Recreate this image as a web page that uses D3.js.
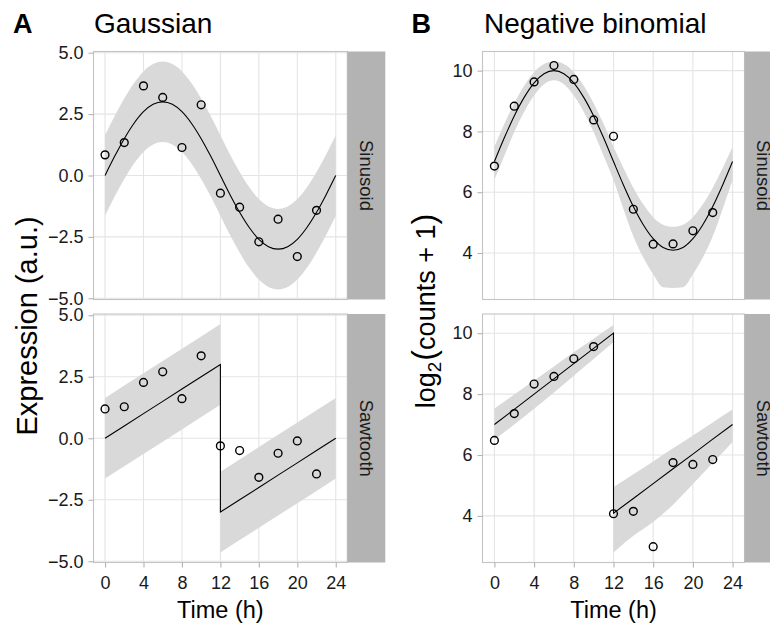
<!DOCTYPE html>
<html><head><meta charset="utf-8">
<script src="https://cdn.jsdelivr.net/npm/d3@7"></script>
<style>
body{margin:0;background:#fff}
text{font-family:"Liberation Sans",Arial,Helvetica,sans-serif}
</style>
</head><body>
<svg id="c" width="770" height="623"></svg>
<script>
// ---------- DATA ----------
const hours = [0,1,2,3,4,5,6,7,8,9,10,11,12,13,14,15,16,17,18,19,20,21,22,23,24];
const xTicks = [0,4,8,12,16,20,24];
const obsHours = [0,2,4,6,8,10,12,14,16,18,20,22];
const sawHours1 = [0,2,4,6,8,10,12];
const sawHours2 = [12,14,16,18,20,22,24];

// Gaussian – sinusoid
const gaussSinMean  = [0,0.78,1.5,2.12,2.6,2.9,3,2.9,2.6,2.12,1.5,0.78,0,-0.78,-1.5,-2.12,-2.6,-2.9,-3,-2.9,-2.6,-2.12,-1.5,-0.78,0];
const gaussSinLower = [-1.64,-0.86,-0.14,0.48,0.96,1.26,1.36,1.26,0.96,0.48,-0.14,-0.86,-1.64,-2.42,-3.14,-3.76,-4.24,-4.54,-4.64,-4.54,-4.24,-3.76,-3.14,-2.42,-1.64];
const gaussSinUpper = [1.64,2.42,3.14,3.76,4.24,4.54,4.64,4.54,4.24,3.76,3.14,2.42,1.64,0.86,0.14,-0.48,-0.96,-1.26,-1.36,-1.26,-0.96,-0.48,0.14,0.86,1.64];
const gaussSinObs   = [0.84,1.34,3.65,3.18,1.14,2.88,-0.72,-1.29,-2.70,-1.78,-3.30,-1.42];

// Gaussian – sawtooth
const gaussSawMean1  = [0,0.5,1,1.5,2,2.5,3];
const gaussSawLower1 = [-1.64,-1.14,-0.64,-0.14,0.36,0.86,1.36];
const gaussSawUpper1 = [1.64,2.14,2.64,3.14,3.64,4.14,4.64];
const gaussSawMean2  = [-3,-2.5,-2,-1.5,-1,-0.5,0];
const gaussSawLower2 = [-4.64,-4.14,-3.64,-3.14,-2.64,-2.14,-1.64];
const gaussSawUpper2 = [-1.36,-0.86,-0.36,0.14,0.64,1.14,1.64];
const gaussSawObs    = [1.19,1.28,2.27,2.70,1.61,3.35,-0.31,-0.50,-1.59,-0.61,-0.11,-1.45];

// Negative binomial – sinusoid
const nbSinMean  = [7.01,7.79,8.51,9.12,9.6,9.9,10.0,9.9,9.6,9.12,8.51,7.79,7.01,6.24,5.53,4.93,4.47,4.18,4.09,4.18,4.47,4.93,5.53,6.24,7.01];
const nbSinLower = [6.4,7.2,7.98,8.65,9.18,9.55,9.68,9.55,9.18,8.65,7.98,7.2,6.4,5.45,4.55,3.85,3.3,2.87,2.85,2.87,3.3,3.85,4.55,5.45,6.4];
const nbSinUpper = [7.5,8.25,8.93,9.5,9.95,10.22,10.3,10.22,9.95,9.5,8.93,8.25,7.5,6.8,6.15,5.6,5.18,4.93,4.86,4.93,5.18,5.6,6.15,6.8,7.5];
const nbSinObs   = [6.86,8.83,9.63,10.17,9.71,8.38,7.84,5.44,4.29,4.30,4.73,5.33];

// Negative binomial – sawtooth
const nbSawMean1  = [7,7.5,8,8.5,9,9.5,10];
const nbSawLower1 = [6.5,7.0,7.52,8.05,8.6,9.15,9.7];
const nbSawUpper1 = [7.53,7.99,8.45,8.91,9.37,9.82,10.27];
const nbSawMean2  = [4.09,4.57,5.06,5.55,6.03,6.52,7.0];
const nbSawLower2 = [2.8,3.35,3.8,4.37,5.05,5.74,6.43];
const nbSawUpper2 = [4.95,5.37,5.79,6.22,6.64,7.07,7.49];
const nbSawObs    = [6.48,7.36,8.33,8.58,9.16,9.56,4.07,4.15,2.99,5.75,5.69,5.85];

const gaussYTicks = [-5,-2.5,0,2.5,5];
const nbYTicks = [4,6,8,10];
const rowLabels = ["Sinusoid","Sawtooth"];

// ---------- LAYOUT ----------
const svg = d3.select("#c");
svg.append("rect").attr("width",770).attr("height",623).attr("fill","#fff");
const rows = [{y0:51.5,y1:299.5},{y0:314,y1:562.5}];
const stripW = 38;
const BAND = "#d9d9d9", GRID = "#e4e4e4", BORDER = "#c4c4c4", TICK = "#b3b3b3", STRIP = "#b3b3b3", TXT = "#1a1a1a";

const cols = [
  {letter:"A", letterX:13, title:"Gaussian", titleX:94, x0:93.5, x1:347.3,
   yDomain:[-5.05,5.05], yTicks:gaussYTicks, fmt:d3.format(".1f"),
   yTitleX:36.5, yTitleY:326, yTitleSize:29, xTitleSize:23.5,
   panels:[
     {curve:d3.curveMonotoneX, bands:[{t:hours,lo:gaussSinLower,hi:gaussSinUpper}], lt:hours, lm:gaussSinMean, obs:gaussSinObs},
     {curve:d3.curveLinear, bands:[{t:sawHours1,lo:gaussSawLower1,hi:gaussSawUpper1},{t:sawHours2,lo:gaussSawLower2,hi:gaussSawUpper2}],
      lt:sawHours1.concat(sawHours2), lm:gaussSawMean1.concat(gaussSawMean2), obs:gaussSawObs}
   ]},
  {letter:"B", letterX:411.5, title:"Negative binomial", titleX:484, x0:482.5, x1:744.5,
   yDomain:[2.47,10.63], yTicks:nbYTicks, fmt:d3.format("d"),
   yTitleX:435, yTitleY:311, yTitleSize:27, xTitleSize:23.5,
   panels:[
     {curve:d3.curveMonotoneX, bands:[{t:hours,lo:nbSinLower,hi:nbSinUpper}], lt:hours, lm:nbSinMean, obs:nbSinObs},
     {curve:d3.curveMonotoneX, bands:[{t:sawHours1,lo:nbSawLower1,hi:nbSawUpper1},{t:sawHours2,lo:nbSawLower2,hi:nbSawUpper2}],
      lt:sawHours1.concat(sawHours2), lm:nbSawMean1.concat(nbSawMean2), obs:nbSawObs, lineCurve:d3.curveLinear}
   ]}
];

cols.forEach(col => {
  const x = d3.scaleLinear().domain([-1.2,25.2]).range([col.x0,col.x1]);
  // header
  svg.append("text").attr("x",col.letterX).attr("y",33).attr("font-size",27).attr("font-weight","bold").attr("fill","#000").text(col.letter);
  svg.append("text").attr("x",col.titleX).attr("y",33).attr("font-size",28).attr("fill","#000").text(col.title);

  col.panels.forEach((p,i) => {
    const r = rows[i];
    const y = d3.scaleLinear().domain(col.yDomain).range([r.y1,r.y0]);
    const g = svg.append("g");
    // grid
    g.selectAll("line.gx").data(xTicks).join("line").attr("class","gx")
      .attr("x1",d=>x(d)).attr("x2",d=>x(d)).attr("y1",r.y0).attr("y2",r.y1)
      .attr("stroke",GRID).attr("stroke-width",1.1);
    g.selectAll("line.gy").data(col.yTicks).join("line").attr("class","gy")
      .attr("x1",col.x0).attr("x2",col.x1).attr("y1",d=>y(d)).attr("y2",d=>y(d))
      .attr("stroke",GRID).attr("stroke-width",1.1);
    // bands
    p.bands.forEach(b => {
      const data = b.t.map((t,k)=>({t, lo:b.lo[k], hi:b.hi[k]}));
      g.append("path").datum(data)
        .attr("d", d3.area().x(d=>x(d.t)).y0(d=>y(d.lo)).y1(d=>y(d.hi)).curve(p.curve))
        .attr("fill",BAND);
    });
    // mean line
    const ld = p.lt.map((t,k)=>({t, v:p.lm[k]}));
    g.append("path").datum(ld)
      .attr("d", d3.line().x(d=>x(d.t)).y(d=>y(d.v)).curve(p.lineCurve || p.curve))
      .attr("fill","none").attr("stroke","#000").attr("stroke-width",1.1);
    // observations
    g.selectAll("circle").data(obsHours.map((t,k)=>({t, v:p.obs[k]}))).join("circle")
      .attr("cx",d=>x(d.t)).attr("cy",d=>y(d.v)).attr("r",3.9)
      .attr("fill","none").attr("stroke","#000").attr("stroke-width",1.4);
    // border
    g.append("rect").attr("x",col.x0).attr("y",r.y0).attr("width",col.x1-col.x0).attr("height",r.y1-r.y0)
      .attr("fill","none").attr("stroke",BORDER).attr("stroke-width",1.1);
    // y axis
    const ya = svg.append("g").attr("transform",`translate(${col.x0},0)`)
      .call(d3.axisLeft(y).tickValues(col.yTicks).tickFormat(col.fmt).tickSize(5).tickPadding(5));
    ya.select(".domain").remove();
    ya.selectAll("line").attr("stroke",TICK).attr("stroke-width",1.1);
    ya.selectAll("text").attr("font-size",18).attr("fill",TXT).attr("font-family","Liberation Sans, Arial, sans-serif");
    // x axis on bottom row
    if (i === 1) {
      const xa = svg.append("g").attr("transform",`translate(0,${r.y1})`)
        .call(d3.axisBottom(x).tickValues(xTicks).tickFormat(d3.format("d")).tickSize(5).tickPadding(9));
      xa.select(".domain").remove();
      xa.selectAll("line").attr("stroke",TICK).attr("stroke-width",1.1);
      xa.selectAll("text").attr("font-size",18).attr("fill",TXT).attr("font-family","Liberation Sans, Arial, sans-serif");
    }
    // strip
    svg.append("rect").attr("x",col.x1).attr("y",r.y0).attr("width",stripW).attr("height",r.y1-r.y0).attr("fill",STRIP);
    const cx = col.x1 + stripW/2, cy = (r.y0+r.y1)/2;
    svg.append("text").attr("transform",`translate(${cx},${cy}) rotate(90)`)
      .attr("text-anchor","middle").attr("dy","0.35em").attr("font-size",18.5).attr("fill",TXT).text(rowLabels[i]);
  });

  // x title
  svg.append("text").attr("x",(col.x0+col.x1)/2).attr("y",617.5).attr("text-anchor","middle")
    .attr("font-size",col.xTitleSize).attr("fill","#000").text("Time (h)");
});

// y titles
svg.append("text").attr("transform",`translate(${cols[0].yTitleX},${cols[0].yTitleY}) rotate(-90)`)
  .attr("text-anchor","middle").attr("font-size",cols[0].yTitleSize).attr("fill","#000").text("Expression (a.u.)");
const yt = svg.append("text").attr("transform",`translate(${cols[1].yTitleX},${cols[1].yTitleY}) rotate(-90)`)
  .attr("text-anchor","middle").attr("font-size",cols[1].yTitleSize).attr("fill","#000");
yt.append("tspan").text("log");
yt.append("tspan").attr("font-size",cols[1].yTitleSize*0.7).attr("dy",6).text("2");
yt.append("tspan").attr("font-size",cols[1].yTitleSize*1.2).attr("dy",-6).attr("dx",1).text("(");
yt.append("tspan").text("counts + 1");
yt.append("tspan").attr("font-size",cols[1].yTitleSize*1.2).text(")");
</script>
</body></html>
